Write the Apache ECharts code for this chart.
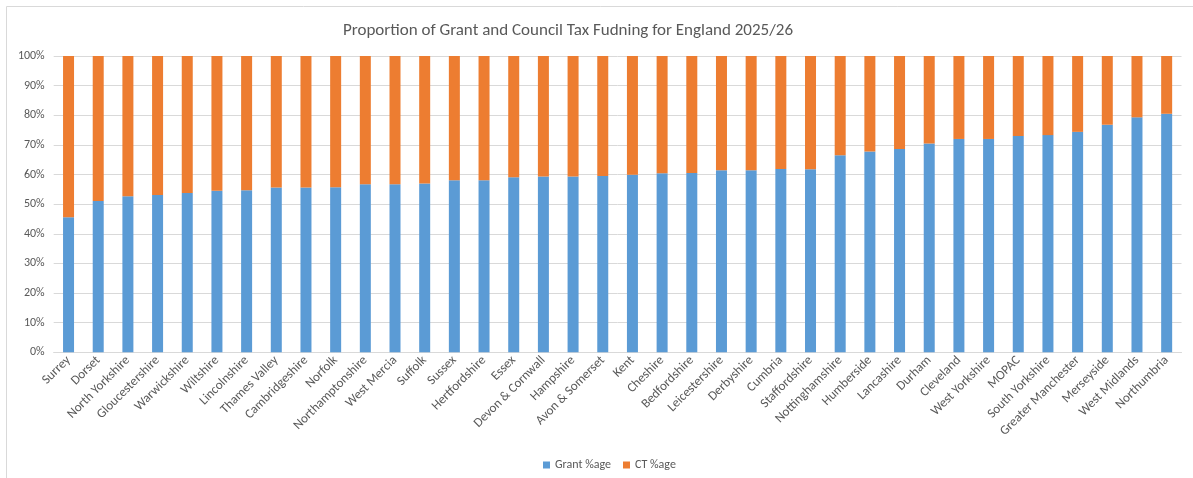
<!DOCTYPE html>
<html>
<head>
<meta charset="utf-8">
<script src="https://cdn.jsdelivr.net/npm/echarts@6/dist/echarts.min.js"></script>
<style>html,body{margin:0;padding:0;background:#fff;}#c{width:1193px;height:478px;}</style>
</head>
<body>
<div id="c"></div>
<script>
const categories = ["Surrey","Dorset","North Yorkshire","Gloucestershire","Warwickshire","Wiltshire","Lincolnshire","Thames Valley","Cambridgeshire","Norfolk","Northamptonshire","West Mercia","Suffolk","Sussex","Hertfordshire","Essex","Devon & Cornwall","Hampshire","Avon & Somerset","Kent","Cheshire","Bedfordshire","Leicestershire","Derbyshire","Cumbria","Staffordshire","Nottinghamshire","Humberside","Lancashire","Durham","Cleveland","West Yorkshire","MOPAC","South Yorkshire","Greater Manchester","Merseyside","West Midlands","Northumbria"];
const grantPct = [45.6,51.1,52.7,53.1,53.8,54.5,54.7,55.6,55.6,55.7,56.7,56.7,57.0,58.1,58.1,59.1,59.3,59.3,59.5,59.9,60.4,60.5,61.4,61.4,61.9,61.8,66.5,67.8,68.6,70.5,72.0,72.0,73.0,73.3,74.4,76.8,79.3,80.5];
const ctPct = [54.4,48.9,47.3,46.9,46.2,45.5,45.3,44.4,44.4,44.3,43.3,43.3,43.0,41.9,41.9,40.9,40.7,40.7,40.5,40.1,39.6,39.5,38.6,38.6,38.1,38.2,33.5,32.2,31.4,29.5,28.0,28.0,27.0,26.7,25.6,23.2,20.7,19.5];
const yTicks = {min:0, max:100, interval:10};

const chart = echarts.init(document.getElementById('c'));
const font = "Carlito, 'Noto Sans', sans-serif";
chart.setOption({
  animation:false,
  textStyle:{fontFamily:font},
  graphic:[{type:'rect',shape:{x:6.5,y:6.5,width:1300,height:600},style:{fill:'none',stroke:'#D9D9D9',lineWidth:1},silent:true}],
  title:{text:'Proportion of Grant and Council Tax Fudning for England 2025/26',left:563,top:17,textAlign:'center',
    textStyle:{fontFamily:font,fontSize:17,fontWeight:'normal',color:'#595959'}},
  legend:{left:538,top:454,itemWidth:7,itemHeight:7,itemGap:12,icon:'rect',
    textStyle:{fontFamily:font,fontSize:12,color:'#595959'},data:['Grant %age','CT %age']},
  grid:{left:53.7,right:11.5,top:56,bottom:125.7,containLabel:false},
  xAxis:{type:'category',data:categories,
    axisLine:{lineStyle:{color:'#D9D9D9'}},axisTick:{show:false},
    axisLabel:{interval:0,rotate:45,margin:6,fontSize:13,color:'#595959',fontFamily:font}},
  yAxis:{type:'value',min:yTicks.min,max:yTicks.max,interval:yTicks.interval,
    axisLabel:{formatter:'{value}%',fontSize:12,color:'#595959',margin:9,fontFamily:font},
    splitLine:{lineStyle:{color:'#D9D9D9'}},axisLine:{show:false},axisTick:{show:false}},
  series:[
    {name:'Grant %age',type:'bar',stack:'t',data:grantPct,barWidth:11,itemStyle:{color:'#5B9BD5'}},
    {name:'CT %age',type:'bar',stack:'t',data:ctPct,barWidth:11,itemStyle:{color:'#ED7D31'}}
  ]
});
</script>
</body>
</html>
